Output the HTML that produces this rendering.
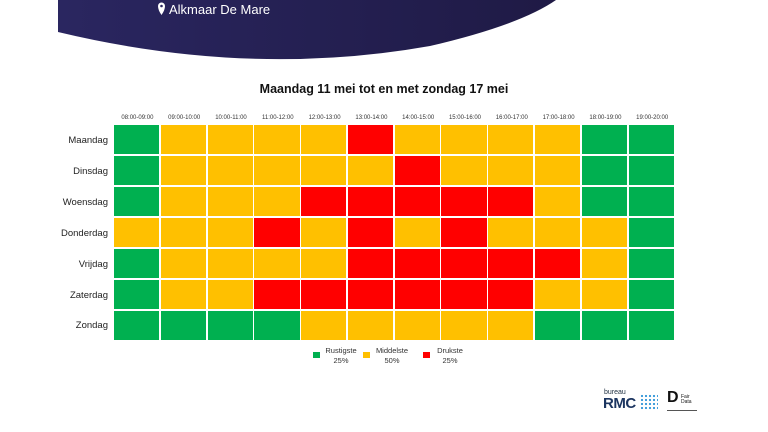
<!DOCTYPE html>
<html><head><meta charset="utf-8"><style>
body{margin:0;width:768px;height:432px;background:#fff;position:relative;overflow:hidden;font-family:"Liberation Sans",sans-serif;}
.abs{position:absolute}
.grid{position:absolute;left:114px;top:125px;display:grid;grid-template-columns:repeat(12,45.2px);grid-template-rows:repeat(7,29.4px);gap:1.6px;background:#fff}
.g{background:#00b050}.y{background:#ffc000}.r{background:#ff0000}
.hdr{position:absolute;top:115px;font-size:6px;color:#333;width:46.8px;text-align:center}
.day{position:absolute;left:40px;width:68px;text-align:right;font-size:9.5px;color:#222}
.lg{position:absolute;font-size:7.5px;color:#333;text-align:center;line-height:10px}
.sq{position:absolute;width:7px;height:6px}
</style></head><body>
<svg class="abs" style="left:0;top:0" width="768" height="80">
<defs><linearGradient id="gr" x1="0" x2="1"><stop offset="0" stop-color="#2a2660"/><stop offset="1" stop-color="#1f1a45"/></linearGradient></defs>
<path d="M58 0 L58 32 Q250 78 430 46 Q520 25 556 0 Z" fill="url(#gr)"/>
<path d="M158 6 a3.5 3.5 0 1 1 7 0 q0 4 -3.5 9 q-3.5 -5 -3.5 -9z" fill="#fff"/>
<circle cx="161.5" cy="6" r="1.3" fill="#2a2660"/>
<text x="169" y="14" fill="#fff" font-family="Liberation Sans" font-size="13">Alkmaar De Mare</text>
</svg>
<div class="abs" style="left:0;width:768px;top:82px;text-align:center;font-size:12.5px;font-weight:bold;color:#111">Maandag 11 mei tot en met zondag 17 mei</div>
<div class="hdr" style="left:114px">08:00-09:00</div><div class="hdr" style="left:160.8px">09:00-10:00</div><div class="hdr" style="left:207.6px">10:00-11:00</div><div class="hdr" style="left:254.4px">11:00-12:00</div><div class="hdr" style="left:301.2px">12:00-13:00</div><div class="hdr" style="left:348px">13:00-14:00</div><div class="hdr" style="left:394.8px">14:00-15:00</div><div class="hdr" style="left:441.6px">15:00-16:00</div><div class="hdr" style="left:488.4px">16:00-17:00</div><div class="hdr" style="left:535.2px">17:00-18:00</div><div class="hdr" style="left:582px">18:00-19:00</div><div class="hdr" style="left:628.8px">19:00-20:00</div>
<div class="day" style="top:135px">Maandag</div><div class="day" style="top:166px">Dinsdag</div><div class="day" style="top:197px">Woensdag</div><div class="day" style="top:228px">Donderdag</div><div class="day" style="top:259px">Vrijdag</div><div class="day" style="top:290px">Zaterdag</div><div class="day" style="top:320px">Zondag</div>
<div class="grid">
<div class="g"></div><div class="y"></div><div class="y"></div><div class="y"></div><div class="y"></div><div class="r"></div><div class="y"></div><div class="y"></div><div class="y"></div><div class="y"></div><div class="g"></div><div class="g"></div>
<div class="g"></div><div class="y"></div><div class="y"></div><div class="y"></div><div class="y"></div><div class="y"></div><div class="r"></div><div class="y"></div><div class="y"></div><div class="y"></div><div class="g"></div><div class="g"></div>
<div class="g"></div><div class="y"></div><div class="y"></div><div class="y"></div><div class="r"></div><div class="r"></div><div class="r"></div><div class="r"></div><div class="r"></div><div class="y"></div><div class="g"></div><div class="g"></div>
<div class="y"></div><div class="y"></div><div class="y"></div><div class="r"></div><div class="y"></div><div class="r"></div><div class="y"></div><div class="r"></div><div class="y"></div><div class="y"></div><div class="y"></div><div class="g"></div>
<div class="g"></div><div class="y"></div><div class="y"></div><div class="y"></div><div class="y"></div><div class="r"></div><div class="r"></div><div class="r"></div><div class="r"></div><div class="r"></div><div class="y"></div><div class="g"></div>
<div class="g"></div><div class="y"></div><div class="y"></div><div class="r"></div><div class="r"></div><div class="r"></div><div class="r"></div><div class="r"></div><div class="r"></div><div class="y"></div><div class="y"></div><div class="g"></div>
<div class="g"></div><div class="g"></div><div class="g"></div><div class="g"></div><div class="y"></div><div class="y"></div><div class="y"></div><div class="y"></div><div class="y"></div><div class="g"></div><div class="g"></div><div class="g"></div>
</div>
<div class="sq g" style="left:313px;top:352px"></div><div class="lg" style="left:322px;top:346px;width:38px">Rustigste<br>25%</div>
<div class="sq y" style="left:363px;top:352px"></div><div class="lg" style="left:371px;top:346px;width:42px">Middelste<br>50%</div>
<div class="sq r" style="left:423px;top:352px"></div><div class="lg" style="left:432px;top:346px;width:36px">Drukste<br>25%</div>
<div class="abs" style="left:604px;top:389px;font-size:7px;color:#234">bureau</div>
<div class="abs" style="left:603px;top:395px;font-size:15px;font-weight:bold;color:#1c3560;letter-spacing:-0.5px">RMC</div>
<div class="abs" style="left:640px;top:394px;width:18px;height:16px;background:radial-gradient(circle,#3a9ad9 1px,transparent 1.3px) 0 0/4px 4px"></div>
<div class="abs" style="left:667px;top:389px;font-size:16px;font-weight:bold;color:#111">D</div>
<div class="abs" style="left:681px;top:395px;font-size:5px;color:#111;line-height:5px">Fair<br>Data</div>
<div class="abs" style="left:667px;top:410px;width:30px;height:1px;background:#555"></div>
</body></html>
